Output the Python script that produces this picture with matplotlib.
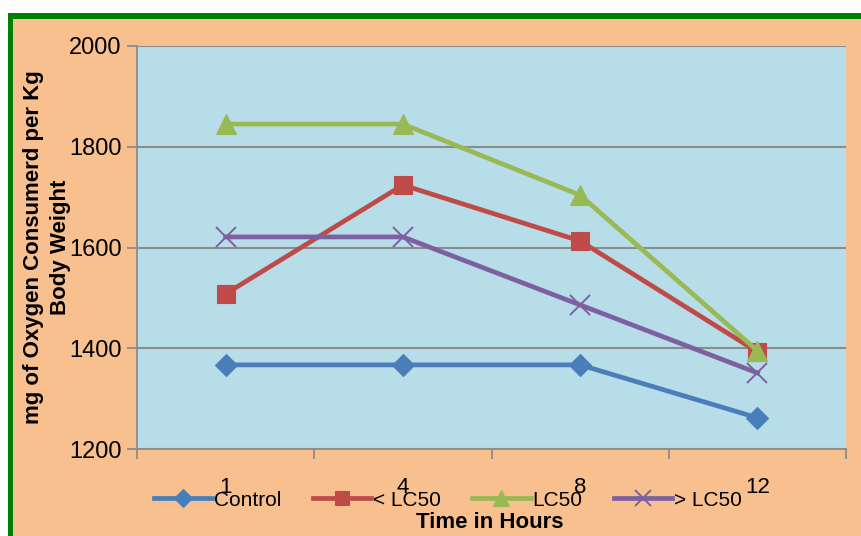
import matplotlib.pyplot as plt
from matplotlib.patches import Rectangle
import numpy as np

# Oxygen consumption over time for each exposure group
hours = ["1", "4", "8", "12"]
control = [1367, 1367, 1367, 1262]
below_lc50 = [1508, 1724, 1613, 1393]
lc50 = [1845, 1845, 1704, 1395]
above_lc50 = [1621, 1621, 1486, 1351]

series = [
    ("Control", control, "#4A7EBB", "D", 11),
    ("< LC50", below_lc50, "#BE4B48", "s", 13),
    ("LC50", lc50, "#98B954", "^", 14),
    ("> LC50", above_lc50, "#7D60A0", "x", 14),
]

W, H = 861, 536
plt.rcParams['font.family'] = ['Liberation Sans', 'DejaVu Sans']

fig = plt.figure(figsize=(W / 100, H / 100), dpi=100)
fig.patch.set_facecolor("white")

def px(x0, y0, x1, y1):
    # pixel box (top-left origin) -> figure fraction rectangle
    return (x0 / W, 1 - y1 / H), (x1 - x0) / W, (y1 - y0) / H

# chart area frame: orange fill with a green border on the top and left
xy, w, h = px(13, 19, W + 5, H + 5)
fig.patches.append(Rectangle(xy, w, h, transform=fig.transFigure,
                             facecolor="#F9C08F", edgecolor="none", zorder=-3))
xy, w, h = px(8, 13, W + 5, 19)
fig.patches.append(Rectangle(xy, w, h, transform=fig.transFigure,
                             facecolor="#008000", edgecolor="none", zorder=-2))
xy, w, h = px(8, 13, 13, H + 5)
fig.patches.append(Rectangle(xy, w, h, transform=fig.transFigure,
                             facecolor="#008000", edgecolor="none", zorder=-2))

ax = fig.add_axes([137 / W, 1 - 449 / H, (846 - 137) / W, (449 - 46) / H])
ax.set_facecolor("#B7DDE8")

x = np.arange(len(hours))
for name, vals, col, mk, ms in series:
    ax.plot(x, vals, color=col, lw=3.4, marker=mk, ms=ms, mew=1.4 if mk == "x" else 0.8,
            mec=col, mfc=col, label=name, zorder=3)

ax.set_ylim(1200, 2000)
ax.set_yticks([1200, 1400, 1600, 1800, 2000])
ax.set_xlim(-0.5, len(hours) - 0.5)
ax.set_xticks(x)
ax.set_xticklabels(hours)
ax.set_xticks(np.arange(-0.5, len(hours)), minor=True)
ax.grid(axis="y", color="#8C8C8C", lw=1.5, zorder=1)
ax.set_axisbelow(True)

for s in ["top", "right"]:
    ax.spines[s].set_visible(False)
for s in ["left", "bottom"]:
    ax.spines[s].set_color("#8C8C8C")
    ax.spines[s].set_linewidth(1.3)

ax.tick_params(axis="y", length=7, color="#8C8C8C", width=1.3, labelsize=17, pad=4)
ax.tick_params(axis="x", which="major", length=0, labelsize=16, pad=20)
ax.tick_params(axis="x", which="minor", length=7, color="#8C8C8C", width=1.3)

fig.text(47 / W, 1 - 247 / H, "mg of Oxygen Consumerd per Kg\nBody Weight",
         rotation=90, ha="center", va="center", fontsize=16, fontweight="bold",
         linespacing=1.35)
fig.text(490 / W, 1 - 522 / H, "Time in Hours", ha="center", va="center",
         fontsize=16, fontweight="bold")

fig.legend(loc="center", bbox_to_anchor=(448 / W, 1 - 500 / H), ncol=4, frameon=False,
           fontsize=15, handlelength=2.8, handletextpad=0.1, columnspacing=1.5,
           borderaxespad=0, markerscale=0.8)

fig.savefig("out.png", dpi=100, facecolor=fig.get_facecolor())
